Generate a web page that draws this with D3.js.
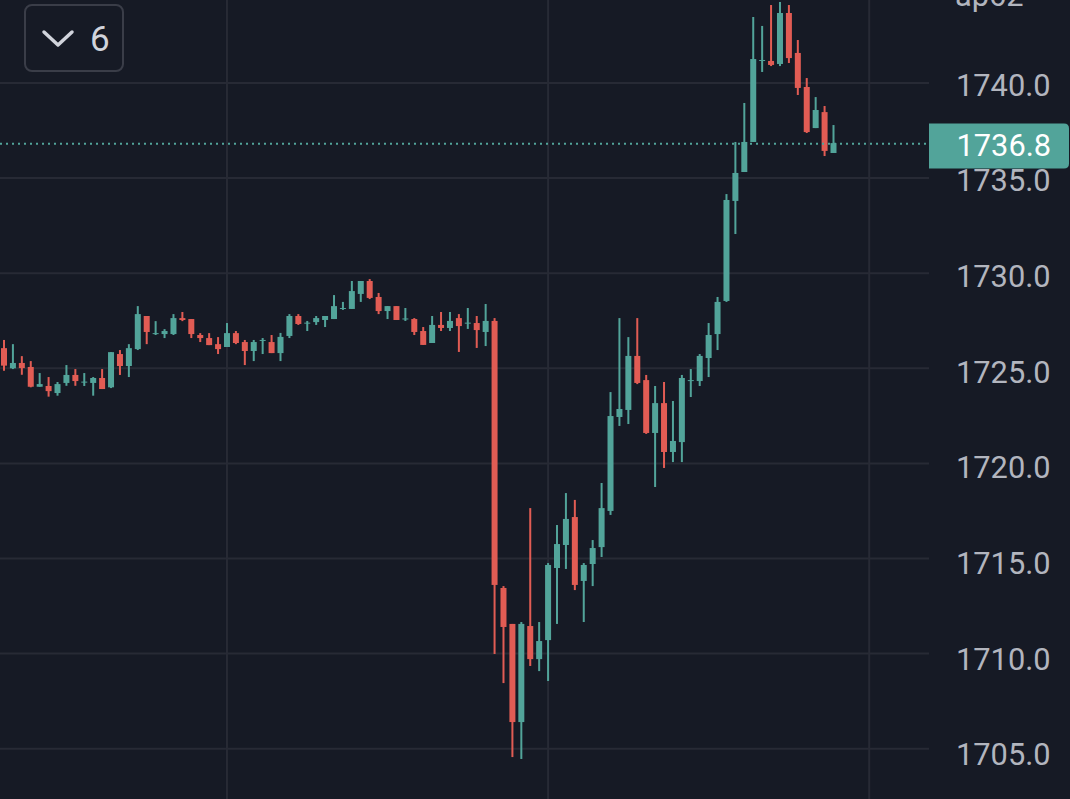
<!DOCTYPE html>
<html>
<head>
<meta charset="utf-8">
<script src="https://cdn.jsdelivr.net/npm/d3@7"></script>
<style>
  html, body { margin: 0; padding: 0; background: #161a25; overflow: hidden; }
  svg { display: block; }
</style>
</head>
<body>
<script>
// candle values, oldest first
const opens = [
  1726.06, 1725.00, 1725.28, 1725.07, 1724.03, 1724.07, 1723.70, 1724.23, 1724.65, 1724.28,
  1724.23, 1724.49, 1724.00, 1725.75, 1725.12, 1726.01, 1727.75, 1726.80, 1726.80, 1726.80,
  1727.64, 1727.59, 1726.75, 1726.59, 1726.27, 1726.12, 1726.85, 1726.38, 1725.91, 1726.45,
  1726.38, 1725.80, 1726.70, 1727.75, 1727.37, 1727.43, 1727.54, 1727.59, 1728.12, 1728.12,
  1728.91, 1729.59, 1728.75, 1728.01, 1728.27, 1727.59, 1727.59, 1726.96, 1726.33, 1727.28,
  1727.12, 1727.64, 1727.37, 1727.38, 1726.91, 1727.49, 1713.45, 1711.56, 1706.40, 1711.45,
  1709.71, 1710.71, 1714.50, 1715.71, 1717.18, 1713.82, 1714.71, 1715.60, 1717.50, 1722.44,
  1722.81, 1725.65, 1724.38, 1721.60, 1723.17, 1720.60, 1721.12, 1724.35, 1724.33, 1725.54,
  1726.80, 1728.54, 1733.80, 1735.32, 1736.90, 1741.16, 1741.16, 1741.00, 1743.68, 1741.58,
  1739.79, 1737.63, 1738.47, 1736.32
];
const highs = [
  1726.49, 1726.27, 1725.64, 1725.38, 1724.75, 1724.54, 1724.28, 1725.17, 1724.96, 1724.75,
  1724.54, 1724.96, 1725.85, 1725.96, 1726.27, 1728.27, 1727.75, 1727.48, 1727.06, 1727.85,
  1727.96, 1727.59, 1726.85, 1726.85, 1726.64, 1727.38, 1726.96, 1726.49, 1726.49, 1726.59,
  1726.75, 1726.86, 1727.85, 1727.85, 1727.49, 1727.75, 1727.75, 1728.85, 1728.49, 1729.59,
  1729.59, 1729.69, 1728.96, 1728.27, 1728.27, 1728.17, 1727.64, 1727.17, 1727.75, 1727.96,
  1727.96, 1727.85, 1728.17, 1727.75, 1728.38, 1727.64, 1713.55, 1711.56, 1711.66, 1717.65,
  1711.66, 1714.76, 1716.76, 1718.44, 1718.08, 1714.76, 1715.97, 1718.97, 1723.75, 1727.64,
  1726.64, 1727.64, 1724.65, 1724.07, 1724.28, 1723.28, 1724.65, 1724.96, 1725.75, 1727.38,
  1728.75, 1734.16, 1736.90, 1738.95, 1743.47, 1743.00, 1744.10, 1744.26, 1744.10, 1742.26,
  1740.26, 1739.26, 1738.79, 1737.79
];
const lows = [
  1724.87, 1724.96, 1724.66, 1724.00, 1724.03, 1723.51, 1723.56, 1724.08, 1724.08, 1724.07,
  1723.56, 1723.91, 1723.96, 1724.65, 1724.54, 1725.96, 1726.27, 1726.75, 1726.59, 1726.75,
  1727.48, 1726.59, 1726.38, 1726.22, 1725.75, 1726.12, 1726.27, 1725.17, 1725.38, 1725.75,
  1725.80, 1725.38, 1726.59, 1727.28, 1726.96, 1727.28, 1727.17, 1727.59, 1728.07, 1728.12,
  1728.49, 1728.64, 1727.85, 1727.59, 1727.54, 1727.49, 1726.75, 1726.23, 1726.33, 1726.96,
  1726.96, 1725.86, 1727.07, 1726.07, 1726.17, 1709.98, 1708.45, 1704.56, 1704.46, 1709.35,
  1709.08, 1708.56, 1711.56, 1714.45, 1713.34, 1711.66, 1713.55, 1715.08, 1717.29, 1721.97,
  1722.07, 1724.17, 1721.55, 1718.76, 1719.76, 1720.07, 1720.07, 1723.49, 1724.07, 1724.54,
  1725.96, 1728.49, 1732.06, 1735.32, 1736.90, 1740.58, 1740.89, 1740.89, 1741.05, 1739.37,
  1737.37, 1737.63, 1736.16, 1736.32
];
const closes = [
  1725.14, 1725.28, 1725.01, 1724.03, 1724.17, 1723.80, 1724.17, 1724.65, 1724.33, 1724.30,
  1724.49, 1723.91, 1725.85, 1725.12, 1726.06, 1727.85, 1726.91, 1726.85, 1726.96, 1727.64,
  1727.54, 1726.80, 1726.59, 1726.22, 1726.01, 1726.85, 1726.33, 1725.91, 1726.38, 1726.49,
  1725.80, 1726.65, 1727.75, 1727.33, 1727.40, 1727.64, 1727.75, 1728.27, 1728.17, 1729.06,
  1729.59, 1728.70, 1728.01, 1728.27, 1727.54, 1727.62, 1726.91, 1726.23, 1727.28, 1727.12,
  1727.49, 1727.22, 1727.40, 1727.01, 1727.49, 1713.61, 1711.40, 1706.40, 1711.56, 1709.71,
  1710.66, 1714.66, 1715.76, 1717.08, 1713.61, 1714.66, 1715.55, 1717.65, 1722.49, 1722.86,
  1725.65, 1724.23, 1721.60, 1723.17, 1720.60, 1721.18, 1724.49, 1724.38, 1725.65, 1726.75,
  1728.49, 1733.85, 1735.27, 1736.90, 1741.26, 1741.21, 1740.95, 1743.68, 1741.31, 1739.74,
  1737.42, 1738.58, 1736.43, 1736.84
];
const priceTicks = [1705, 1710, 1715, 1720, 1725, 1730, 1735, 1740];
const timeGridIdx = [25, 61, 97];
const lastPrice = 1736.8;
const buttonLabel = "6";

const width = 1070, height = 799;
const plotRight = 929;
const up = "#52a49a", down = "#e15c54";
const labelFont = "Roboto, sans-serif";

const candles = opens.map((o, i) => ({ i, o, h: highs[i], l: lows[i], c: closes[i] }));

const x = d3.scaleLinear().domain([0, 93]).range([4, 833.5]);
const y = d3.scaleLinear().domain([1705, 1740]).range([748.7, 83]);
// the axis texts sit a little below their grid lines, more so lower down
const yText = d3.scaleLinear().domain([1705, 1740]).range([755, 85.3]);

const svg = d3.select("body").append("svg")
  .attr("width", width)
  .attr("height", height);

svg.append("rect")
  .attr("width", width).attr("height", height)
  .attr("fill", "#161a25");

// grid
const grid = svg.append("g").attr("stroke", "#272a35").attr("stroke-width", 2);
grid.selectAll(".hg")
  .data(priceTicks)
  .enter().append("line")
  .attr("x1", 0).attr("x2", plotRight)
  .attr("y1", d => y(d)).attr("y2", d => y(d));
grid.selectAll(".vg")
  .data(timeGridIdx)
  .enter().append("line")
  .attr("x1", d => x(d)).attr("x2", d => x(d))
  .attr("y1", 0).attr("y2", height);

// candles
const bodyW = 6;
const node = svg.append("g").selectAll("g")
  .data(candles)
  .enter().append("g")
  .attr("fill", d => d.c >= d.o ? up : down);

node.append("rect")
  .attr("x", d => x(d.i) - 1)
  .attr("width", 2)
  .attr("y", d => y(d.h))
  .attr("height", d => Math.max(1, y(d.l) - y(d.h)));

node.append("rect")
  .attr("x", d => x(d.i) - bodyW / 2)
  .attr("width", bodyW)
  .attr("y", d => y(Math.max(d.o, d.c)))
  .attr("height", d => Math.max(1, Math.abs(y(d.o) - y(d.c))));

// last price line
svg.append("line")
  .attr("x1", 0).attr("x2", plotRight)
  .attr("y1", y(lastPrice)).attr("y2", y(lastPrice))
  .attr("stroke", up)
  .attr("stroke-width", 2)
  .attr("stroke-dasharray", "2,4");

// price axis
const axis = svg.append("g")
  .attr("transform", "translate(956,0)")
  .call(d3.axisRight(yText).tickValues(priceTicks).tickSize(0).tickPadding(0).tickFormat(d3.format(".1f")));
axis.select(".domain").remove();
axis.selectAll("text")
  .attr("fill", "#b2b5be")
  .attr("font-family", labelFont)
  .attr("font-size", 30.8);

// partially hidden label at the top edge
svg.append("text")
  .attr("x", 955).attr("y", 6)
  .attr("fill", "#b2b5be")
  .attr("font-family", labelFont)
  .attr("font-size", 30.8)
  .text("ap62");

// last price tag
const ly = yText(lastPrice);
const bx = plotRight, bw = 140, bh = 45, r = 5;
const by = ly - bh / 2 - 0.5;
svg.append("path")
  .attr("d", `M${bx},${by} H${bx + bw - r} Q${bx + bw},${by} ${bx + bw},${by + r} V${by + bh - r} Q${bx + bw},${by + bh} ${bx + bw - r},${by + bh} H${bx} Z`)
  .attr("fill", up);
svg.append("text")
  .attr("x", 956.5).attr("y", ly)
  .attr("dy", "0.32em")
  .attr("fill", "#ffffff")
  .attr("font-family", labelFont)
  .attr("font-size", 30.8)
  .text(d3.format(".1f")(lastPrice));

// collapse button, top left
const btn = svg.append("g");
btn.append("rect")
  .attr("x", 25).attr("y", 5)
  .attr("width", 98).attr("height", 66)
  .attr("rx", 7)
  .attr("fill", "#161a25")
  .attr("stroke", "#3a3d48")
  .attr("stroke-width", 2);
btn.append("polyline")
  .attr("points", "44,32 58,45 72,32")
  .attr("fill", "none")
  .attr("stroke", "#d1d4dc")
  .attr("stroke-width", 3.5)
  .attr("stroke-linecap", "round")
  .attr("stroke-linejoin", "round");
btn.append("text")
  .attr("x", 90).attr("y", 38)
  .attr("dy", "0.36em")
  .attr("fill", "#d1d4dc")
  .attr("font-family", labelFont)
  .attr("font-size", 35)
  .text(buttonLabel);
</script>
</body>
</html>
